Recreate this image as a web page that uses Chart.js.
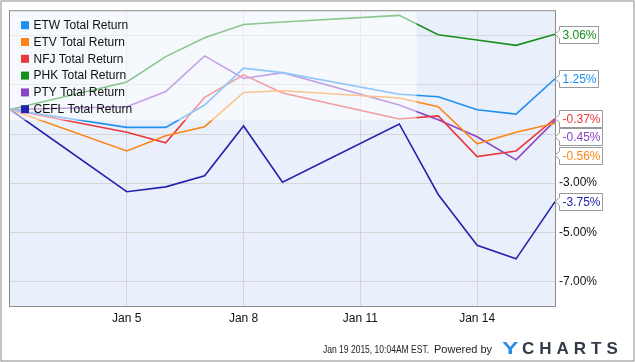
<!DOCTYPE html>
<html>
<head>
<meta charset="utf-8">
<script src="https://cdn.jsdelivr.net/npm/chart.js@4.4.1/dist/chart.umd.min.js"></script>
<style>
  html, body { margin: 0; padding: 0; background: #fff; }
  #wrap { width: 635px; height: 362px; position: relative; }
</style>
</head>
<body>
<div id="wrap"><canvas id="chart" width="635" height="362"></canvas></div>
<script>
// trading days in January 2015
const days = [2, 5, 6, 7, 8, 9, 12, 13, 14, 15, 16];
const dayTicks = [5, 8, 11, 14];
const pctTicks = [-7, -5, -3, -1, 1, 3];

const seriesNames = ['ETW Total Return', 'ETV Total Return', 'NFJ Total Return',
  'PHK Total Return', 'PTY Total Return', 'CEFL Total Return'];
const seriesColors = ['#1f8ef1', '#fb8616', '#e8393c', '#14901a', '#8b43c6', '#2323ae'];

const etw  = [0, -0.73, -0.73, 0.18, 1.68, 1.50, 0.62, 0.52, -0.01, -0.19, 1.25];
const etv  = [0, -1.69, -1.07, -0.70, 0.69, 0.76, 0.47, 0.11, -1.40, -0.93, -0.56];
const nfj  = [0, -0.93, -1.36, 0.49, 1.41, 0.67, -0.39, -0.26, -1.92, -1.69, -0.37];
const phk  = [0, 1.12, 2.15, 2.92, 3.46, 3.56, 3.83, 3.04, 2.83, 2.61, 3.06];
const pty  = [0, 0.11, 0.73, 2.18, 1.26, 1.50, 0.18, -0.42, -1.11, -2.05, -0.45];
const cefl = [0, -3.35, -3.15, -2.70, -0.67, -2.96, -0.59, -3.46, -5.53, -6.08, -3.75];
const seriesValues = [etw, etv, nfj, phk, pty, cefl];

const FONT = '"Liberation Sans", Arial, sans-serif';

// plot background
const backdrop = {
  id: 'backdrop',
  beforeDraw(chart) {
    const { ctx, chartArea: a } = chart;
    ctx.save();
    ctx.fillStyle = '#fff';
    ctx.fillRect(0, 0, chart.width, chart.height);
    ctx.fillStyle = '#eaf0fb';
    ctx.fillRect(a.left, a.top, a.right - a.left, a.bottom - a.top);
    ctx.restore();
  }
};

// whitish gloss over the top-left part of the plot
const gloss = {
  id: 'gloss',
  afterDatasetsDraw(chart) {
    const { ctx, chartArea: a } = chart;
    ctx.save();
    ctx.fillStyle = 'rgba(255,255,255,0.5)';
    ctx.fillRect(a.left, a.top, (a.right - a.left) * 0.746, (a.bottom - a.top) * 0.37);
    ctx.restore();
  }
};

// legend, last value flags, borders and footer
const extras = {
  id: 'extras',
  afterDraw(chart) {
    const { ctx, chartArea: a } = chart;
    const yScale = chart.scales.y;
    ctx.save();

    // plot border
    ctx.strokeStyle = '#8c8c8c';
    ctx.lineWidth = 1;
    ctx.strokeRect(a.left - 0.5, a.top - 0.5, a.right - a.left + 1, a.bottom - a.top + 1);
    // outer frame
    ctx.strokeStyle = '#8a8a8a';
    ctx.strokeRect(1, 1, chart.width - 2, chart.height - 2);

    // legend
    ctx.font = '12px ' + FONT;
    ctx.textBaseline = 'middle';
    seriesNames.forEach((name, i) => {
      const cy = a.top + 14 + i * 16.8;
      ctx.fillStyle = seriesColors[i];
      ctx.fillRect(a.left + 11, cy - 4, 8, 8);
      ctx.fillStyle = '#111';
      ctx.fillText(name, a.left + 23.5, cy + 0.5);
    });

    // last value flags
    const flags = seriesValues.map((vals, i) => ({
      v: vals[vals.length - 1], color: seriesColors[i]
    })).sort((p, q) => q.v - p.v);
    let prev = -Infinity;
    flags.forEach(f => {
      let cy = yScale.getPixelForValue(f.v);
      if (cy < prev + 18.4) cy = prev + 18.4;
      prev = cy;
      const label = f.v.toFixed(2) + '%';
      ctx.font = '12px ' + FONT;
      const w = ctx.measureText(label).width + 5;
      const x0 = a.right + 4.5, h = 17;
      const top = Math.round(cy - h / 2) + 0.5, bot = top + h;
      ctx.beginPath();
      ctx.moveTo(x0, top);
      ctx.lineTo(x0 + w, top);
      ctx.lineTo(x0 + w, bot);
      ctx.lineTo(x0, bot);
      ctx.lineTo(x0, cy + 4);
      ctx.lineTo(a.right, cy);
      ctx.lineTo(x0, cy - 4);
      ctx.closePath();
      ctx.fillStyle = '#fff';
      ctx.fill();
      ctx.strokeStyle = '#999';
      ctx.stroke();
      ctx.fillStyle = f.color;
      ctx.textAlign = 'left';
      ctx.fillText(label, x0 + 3, top + h / 2 + 0.5);
    });

    // footer
    ctx.textBaseline = 'alphabetic';
    ctx.fillStyle = '#222';
    ctx.font = '11.5px ' + FONT;
    ctx.fillText('Jan 19 2015, 10:04AM EST.', 323, 353, 106);
    ctx.font = '11px ' + FONT;
    ctx.fillText('Powered by', 434, 353, 60);

    // logo
    ctx.font = 'bold 17px ' + FONT;
    ctx.save();
    ctx.translate(502, 354);
    ctx.scale(1.45, 1);
    ctx.fillStyle = '#2b8fe6';
    ctx.fillText('Y', 0, 0);
    ctx.restore();
    ctx.fillStyle = '#333a48';
    ctx.letterSpacing = '5px';
    ctx.fillText('CHARTS', 522, 354);
    ctx.letterSpacing = '0px';
    ctx.restore();
  }
};

const datasets = seriesNames.map((name, i) => ({
  label: name,
  data: days.map((d, k) => ({ x: d, y: seriesValues[i][k] })),
  borderColor: seriesColors[i],
  backgroundColor: seriesColors[i],
  borderWidth: 1.6,
  pointRadius: 0,
  tension: 0,
  fill: false
}));

new Chart(document.getElementById('chart'), {
  type: 'line',
  data: { datasets: datasets },
  options: {
    responsive: false,
    animation: false,
    layout: { padding: { left: 10, top: 10, right: 0, bottom: 0 } },
    plugins: { legend: { display: false }, tooltip: { enabled: false } },
    scales: {
      x: {
        type: 'linear',
        min: 2,
        max: 16,
        afterBuildTicks(scale) { scale.ticks = dayTicks.map(v => ({ value: v })); },
        afterFit(scale) { scale.height = 56; },
        grid: { color: '#d6d6d6', drawTicks: false },
        border: { display: false },
        ticks: {
          padding: 5,
          color: '#111',
          font: { family: FONT, size: 12 },
          maxRotation: 0,
          callback: v => 'Jan ' + v
        }
      },
      y: {
        position: 'right',
        min: -8,
        max: 4,
        afterBuildTicks(scale) { scale.ticks = pctTicks.map(v => ({ value: v })); },
        afterFit(scale) { scale.width = 80; },
        grid: { color: '#d6d6d6', drawTicks: false },
        border: { display: false },
        ticks: {
          padding: 4,
          color: '#111',
          font: { family: FONT, size: 12 },
          callback: v => v.toFixed(2) + '%'
        }
      }
    }
  },
  plugins: [backdrop, gloss, extras]
});
</script>
</body>
</html>
